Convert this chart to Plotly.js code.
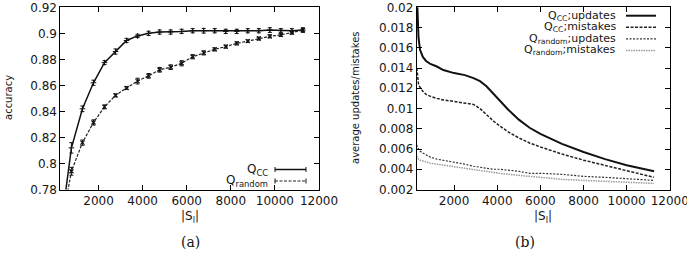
<!DOCTYPE html>
<html>
<head>
<meta charset="utf-8">
<script src="https://cdn.plot.ly/plotly-3.0.1.min.js"></script>
<style>
  html, body { margin: 0; padding: 0; background: #fff; }
  #chart { width: 687px; height: 253px; }
</style>
</head>
<body>
<div id="chart"></div>
<script>
// ---- (a) accuracy against the size of the labelled set |S_l| ----
const labelledSize = [270, 770, 1270, 1770, 2270, 2770, 3270, 3770, 4270, 4770, 5270, 5770,
                      6270, 6770, 7270, 7770, 8270, 8770, 9270, 9770, 10270, 10770, 11270];
const accCC        = [0.748, 0.812, 0.842, 0.862, 0.8775, 0.886, 0.8945, 0.898, 0.900, 0.901, 0.901, 0.9015,
                      0.902, 0.902, 0.902, 0.9015, 0.9015, 0.902, 0.902, 0.9025, 0.902, 0.902, 0.9025];
const accCCErr     = [0.004, 0.004, 0.0022, 0.002, 0.0015, 0.002, 0.0016, 0.0013, 0.0016, 0.0016, 0.0016, 0.0016,
                      0.0016, 0.0018, 0.0016, 0.0016, 0.0016, 0.0016, 0.0016, 0.0018, 0.0016, 0.0016, 0.0016];
const accRandom    = [0.748, 0.794, 0.816, 0.8315, 0.8435, 0.8523, 0.858, 0.8633, 0.8673, 0.872, 0.874, 0.877,
                      0.882, 0.885, 0.8877, 0.8898, 0.8923, 0.894, 0.896, 0.8977, 0.8988, 0.9005, 0.9025];
const accRandomErr = [0.004, 0.003, 0.002, 0.002, 0.0015, 0.0012, 0.001, 0.0022, 0.0018, 0.0018, 0.0018, 0.002,
                      0.0016, 0.0016, 0.0012, 0.0012, 0.0012, 0.001, 0.0012, 0.0012, 0.0012, 0.0012, 0.0016];

// ---- (b) average number of updates / mistakes ----
const runSize         = [270, 300, 350, 420, 550, 700, 900, 1200, 1500, 2000, 2500, 2900, 3200,
                         3500, 3800, 4100, 4500, 5000, 5500, 6000, 7000, 8000, 9000, 10000, 11270];
const ccUpdates       = [0.0215, 0.0188, 0.0170, 0.0158, 0.0151, 0.0147, 0.0144, 0.01415, 0.0138, 0.0135, 0.0133, 0.0130, 0.0127,
                         0.0122, 0.0115, 0.0108, 0.0099, 0.0089, 0.0081, 0.0075, 0.0065, 0.0057, 0.0050, 0.0044, 0.0038];
const ccMistakes      = [0.0140, 0.0130, 0.0124, 0.0121, 0.0117, 0.0114, 0.0112, 0.0110, 0.01085, 0.0107, 0.01055, 0.0104, 0.0100,
                         0.0094, 0.0088, 0.0083, 0.0077, 0.0071, 0.0066, 0.0062, 0.0055, 0.0049, 0.0044, 0.0039, 0.0032];
const randomUpdates   = [0.0064, 0.0061, 0.0060, 0.0058, 0.0056, 0.0054, 0.0052, 0.0050, 0.0049, 0.0047, 0.0045, 0.0043, 0.0042,
                         0.0041, 0.0040, 0.0040, 0.0039, 0.0038, 0.0036, 0.0036, 0.0035, 0.0033, 0.0032, 0.0031, 0.0029];
const randomMistakes  = [0.0053, 0.0051, 0.0050, 0.0049, 0.0048, 0.0047, 0.0046, 0.0045, 0.0044, 0.0043, 0.0041, 0.0040, 0.0039,
                         0.0038, 0.0037, 0.0036, 0.0035, 0.0034, 0.0033, 0.0032, 0.0030, 0.0029, 0.0028, 0.0027, 0.0026];

const xTicks = [2000, 4000, 6000, 8000, 10000, 12000];

const legendA = ["Q<sub>CC</sub>", "Q<sub>random</sub>"];
const legendB = ["Q<sub>CC</sub>;updates", "Q<sub>CC</sub>;mistakes",
                 "Q<sub>random</sub>;updates", "Q<sub>random</sub>;mistakes"];

// ---- page geometry helpers (pixels -> paper fractions) ----
const W = 687, H = 253;
const fx = p => p / W;
const fy = p => 1 - p / H;

const SANS = "DejaVu Sans, Liberation Sans, sans-serif";
const INK = "#161616";

const styleB = [
  { color: "#111111", width: 2.0, dash: "solid" },
  { color: "#222222", width: 1.5, dash: "3px,1.5px" },
  { color: "#333333", width: 1.2, dash: "2px,1.5px" },
  { color: "#9a9a9a", width: 1.5, dash: "1.5px,1px" }
];

const traces = [
  {
    x: labelledSize, y: accCC, xaxis: "x", yaxis: "y", type: "scatter", mode: "lines+markers",
    line: { color: "#111", width: 1.5 },
    marker: { symbol: "cross-thin", size: 4, line: { color: "#111", width: 1 } },
    error_y: { type: "data", array: accCCErr, visible: true, color: "#111", thickness: 1, width: 2 },
    showlegend: false
  },
  {
    x: labelledSize, y: accRandom, xaxis: "x", yaxis: "y", type: "scatter", mode: "lines+markers",
    line: { color: "#222", width: 1.2, dash: "3px,1.5px" },
    marker: { symbol: "x-thin", size: 4, line: { color: "#111", width: 1.2 } },
    error_y: { type: "data", array: accRandomErr, visible: true, color: "#111", thickness: 1, width: 2 },
    showlegend: false
  },
  { x: runSize, y: ccUpdates, xaxis: "x2", yaxis: "y2", type: "scatter", mode: "lines", line: styleB[0], showlegend: false },
  { x: runSize, y: ccMistakes, xaxis: "x2", yaxis: "y2", type: "scatter", mode: "lines", line: styleB[1], showlegend: false },
  { x: runSize, y: randomUpdates, xaxis: "x2", yaxis: "y2", type: "scatter", mode: "lines", line: styleB[2], showlegend: false },
  { x: runSize, y: randomMistakes, xaxis: "x2", yaxis: "y2", type: "scatter", mode: "lines", line: styleB[3], showlegend: false }
];

const axisCommon = {
  showline: true, linecolor: "#000", linewidth: 1, mirror: "allticks",
  ticks: "inside", ticklen: 5, tickwidth: 1, tickcolor: "#000",
  showgrid: false, zeroline: false, fixedrange: true,
  ticklabeloverflow: "allow",
  tickfont: { family: SANS, size: 12, color: INK }
};

const annotations = [];
const shapes = [];
function label(text, x, y, opts) {
  annotations.push(Object.assign({
    text: text, xref: "paper", yref: "paper", x: fx(x), y: fy(y),
    xanchor: "center", yanchor: "middle", showarrow: false,
    font: { family: SANS, size: 12, color: INK }
  }, opts || {}));
}
function sample(x0, x1, y, line, caps) {
  shapes.push({ type: "line", xref: "paper", yref: "paper", x0: fx(x0), x1: fx(x1), y0: fy(y), y1: fy(y), line: line });
  if (caps) {
    [x0, x1].forEach(xc => shapes.push({ type: "line", xref: "paper", yref: "paper",
      x0: fx(xc), x1: fx(xc), y0: fy(y - 2.5), y1: fy(y + 2.5), line: { color: "#111", width: 1 } }));
  }
}

// axis titles
label("accuracy", 8, 98, { textangle: -90, font: { family: SANS, size: 10, color: INK } });
label("average updates/mistakes", 355, 98, { textangle: -90, font: { family: SANS, size: 10, color: INK } });
label("|S<sub>l</sub>|", 189.5, 217);
label("|S<sub>l</sub>|", 543, 217);
// panel captions
label("(a)", 190, 242, { font: { family: "DejaVu Serif, Liberation Serif, serif", size: 14, color: INK } });
label("(b)", 525, 242, { font: { family: "DejaVu Serif, Liberation Serif, serif", size: 14, color: INK } });

// key of panel (a)
const keyA = [{ y: 169.5, line: { color: "#111", width: 1.5 } },
              { y: 181, line: { color: "#222", width: 1.2, dash: "3px,1.5px" } }];
legendA.forEach((t, i) => {
  label(t, 270, keyA[i].y, { xanchor: "right" });
  sample(275, 306, keyA[i].y, keyA[i].line, true);
});
// key of panel (b)
const keyBy = [15.7, 27.2, 38.8, 50.5];
legendB.forEach((t, i) => {
  label(t, 618, keyBy[i], { xanchor: "right", font: { family: SANS, size: 11, color: INK } });
  sample(626, 656, keyBy[i], styleB[i], false);
});

const layout = {
  width: W, height: H,
  margin: { l: 0, r: 0, t: 0, b: 0 },
  paper_bgcolor: "#fff", plot_bgcolor: "#fff",
  showlegend: false,
  xaxis: Object.assign({}, axisCommon, {
    domain: [fx(60.4), fx(319)], range: [270, 12000],
    tickvals: xTicks, tickformat: "d", anchor: "y"
  }),
  yaxis: Object.assign({}, axisCommon, {
    domain: [fy(189.5), fy(7.3)], range: [0.78, 0.92], dtick: 0.02, tick0: 0.78, anchor: "x"
  }),
  xaxis2: Object.assign({}, axisCommon, {
    domain: [fx(416.8), fx(669.8)], range: [270, 12000],
    tickvals: xTicks, tickformat: "d", anchor: "y2"
  }),
  yaxis2: Object.assign({}, axisCommon, {
    domain: [fy(189.5), fy(7.3)], range: [0.002, 0.02], dtick: 0.002, tick0: 0.002, anchor: "x2"
  }),
  annotations: annotations,
  shapes: shapes
};

Plotly.newPlot("chart", traces, layout, { staticPlot: true, displayModeBar: false });
</script>
</body>
</html>
